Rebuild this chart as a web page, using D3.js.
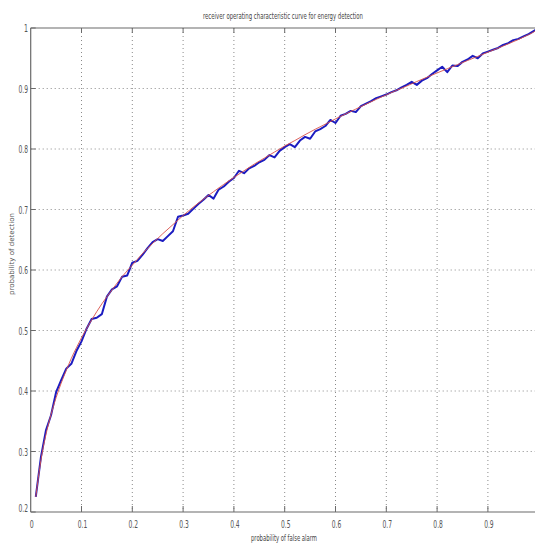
<!DOCTYPE html>
<html><head><meta charset="utf-8">
<script src="https://cdn.jsdelivr.net/npm/d3@7"></script>
<style>body{margin:0;background:#fff}svg{display:block}</style>
</head><body>
<svg id="c" width="535" height="543"></svg>
<script>
const titleText = "receiver operating characteristic curve for energy detection";
const xLabelText = "probability of false alarm";
const yLabelText = "probability of detection";
const xTicks = [0,0.1,0.2,0.3,0.4,0.5,0.6,0.7,0.8,0.9];
const xTickLabels = ["0","0.1","0.2","0.3","0.4","0.5","0.6","0.7","0.8","0.9"];
const yTicks = [0.2,0.3,0.4,0.5,0.6,0.7,0.8,0.9,1];
const yTickLabels = ["0.2","0.3","0.4","0.5","0.6","0.7","0.8","0.9","1"];

// theoretical curve (red)
const theoPf = [0.01,0.02,0.03,0.04,0.05,0.06,0.07,0.08,0.09,0.10,0.12,0.14,0.16,0.18,0.20,0.22,0.24,0.26,0.28,0.30,0.32,0.34,0.36,0.38,0.40,0.42,0.44,0.46,0.48,0.50,0.52,0.54,0.56,0.58,0.60,0.62,0.64,0.66,0.68,0.70,0.72,0.74,0.76,0.78,0.80,0.82,0.84,0.86,0.88,0.90,0.92,0.94,0.96,0.98,0.99,1.00];
const theoPd = [0.225,0.285,0.328,0.361,0.389,0.413,0.434,0.454,0.4715,0.488,0.5175,0.544,0.567,0.589,0.608,0.627,0.644,0.660,0.675,0.690,0.704,0.717,0.7295,0.7415,0.753,0.764,0.775,0.785,0.795,0.805,0.814,0.8236,0.8326,0.841,0.8498,0.858,0.866,0.874,0.882,0.8895,0.897,0.904,0.9115,0.9186,0.9257,0.9326,0.9394,0.9463,0.9531,0.960,0.9667,0.9738,0.981,0.9889,0.9933,1.0];

// simulated curve (blue)
const simPf = [0.01,0.02,0.03,0.04,0.05,0.06,0.07,0.08,0.09,0.10,0.11,0.12,0.13,0.14,0.15,0.16,0.17,0.18,0.19,0.20,0.21,0.22,0.23,0.24,0.25,0.26,0.27,0.28,0.29,0.30,0.31,0.32,0.33,0.34,0.35,0.36,0.37,0.38,0.39,0.40,0.41,0.42,0.43,0.44,0.45,0.46,0.47,0.48,0.49,0.50,0.51,0.52,0.53,0.54,0.55,0.56,0.57,0.58,0.59,0.60,0.61,0.62,0.63,0.64,0.65,0.66,0.67,0.68,0.69,0.70,0.71,0.72,0.73,0.74,0.75,0.76,0.77,0.78,0.79,0.80,0.81,0.82,0.83,0.84,0.85,0.86,0.87,0.88,0.89,0.90,0.91,0.92,0.93,0.94,0.95,0.96,0.97,0.98,0.99,1.00];
const simPd = [0.225,0.290,0.335,0.360,0.398,0.418,0.437,0.445,0.466,0.482,0.503,0.519,0.521,0.527,0.556,0.568,0.573,0.589,0.591,0.612,0.615,0.625,0.636,0.646,0.651,0.648,0.656,0.664,0.688,0.690,0.693,0.701,0.709,0.716,0.724,0.718,0.733,0.738,0.746,0.752,0.764,0.760,0.768,0.772,0.778,0.782,0.790,0.786,0.797,0.803,0.808,0.803,0.814,0.820,0.817,0.829,0.833,0.838,0.848,0.843,0.855,0.858,0.863,0.861,0.871,0.875,0.879,0.884,0.887,0.890,0.894,0.897,0.902,0.906,0.911,0.906,0.913,0.917,0.924,0.930,0.936,0.927,0.938,0.937,0.944,0.948,0.954,0.950,0.958,0.961,0.964,0.967,0.972,0.975,0.980,0.982,0.986,0.990,0.995,1.000];

const svg = d3.select("#c");
const narrow = "'Liberation Sans Narrow','DejaVu Sans Condensed','Roboto Condensed',sans-serif";
const pL = 30.7, pT = 28, pB = 512, pR = 538.7;
const x = d3.scaleLinear().domain([0,1]).range([pL,pR]);
const y = d3.scaleLinear().domain([0.2,1]).range([pB,pT]);

// grid
const g = svg.append("g");
g.selectAll("line.vg").data(xTicks.filter(d=>d>0)).join("line")
  .attr("x1",d=>x(d)).attr("x2",d=>x(d)).attr("y1",pT).attr("y2",pB)
  .attr("stroke","#8a8a8a").attr("stroke-width",1).attr("stroke-dasharray","1,3");
g.selectAll("line.hg").data(yTicks.filter(d=>d>0.2&&d<1)).join("line")
  .attr("x1",pL).attr("x2",535).attr("y1",d=>y(d)).attr("y2",d=>y(d))
  .attr("stroke","#8a8a8a").attr("stroke-width",1).attr("stroke-dasharray","1,3");

// axes box
const axCol = "#6a6a6a";
svg.append("line").attr("x1",pL).attr("x2",535).attr("y1",pB).attr("y2",pB).attr("stroke",axCol).attr("stroke-width",1.2);
svg.append("line").attr("x1",pL).attr("x2",535).attr("y1",pT).attr("y2",pT).attr("stroke",axCol).attr("stroke-width",1.2);
svg.append("line").attr("x1",pL).attr("x2",pL).attr("y1",pT).attr("y2",pB).attr("stroke",axCol).attr("stroke-width",1.2);

// ticks
svg.selectAll("line.xt").data(xTicks.filter(d=>d>0)).join("line")
  .attr("x1",d=>x(d)).attr("x2",d=>x(d)).attr("y1",pB).attr("y2",pB-6).attr("stroke",axCol);
svg.selectAll("line.xtt").data(xTicks.filter(d=>d>0)).join("line")
  .attr("x1",d=>x(d)).attr("x2",d=>x(d)).attr("y1",pT).attr("y2",pT+5).attr("stroke",axCol);
svg.selectAll("line.yt").data(yTicks).join("line")
  .attr("x1",pL).attr("x2",pL+5).attr("y1",d=>y(d)).attr("y2",d=>y(d)).attr("stroke",axCol);

// tick labels
svg.selectAll("text.xl").data(xTicks).join("text")
  .attr("x",(d)=>x(d)+1).attr("y",528).attr("text-anchor","middle")
  .attr("font-family",narrow).attr("font-size",11).attr("fill","#555")
  .attr("textLength",(d,i)=>xTickLabels[i].length>1?9.5:4).attr("lengthAdjust","spacingAndGlyphs")
  .text((d,i)=>xTickLabels[i]);
svg.selectAll("text.yl").data(yTicks).join("text")
  .attr("x",28).attr("y",d=>y(d)+ (d===0.2? 0 : 4)).attr("text-anchor","end")
  .attr("font-family",narrow).attr("font-size",11).attr("fill","#555")
  .attr("textLength",(d,i)=>yTickLabels[i].length>1?9.5:4).attr("lengthAdjust","spacingAndGlyphs")
  .text((d,i)=>yTickLabels[i]);

// curves
const line = d3.line().x(d=>x(d[0])).y(d=>y(d[1]));
svg.append("path").datum(simPf.map((p,i)=>[p,simPd[i]]))
  .attr("d",line).attr("fill","none").attr("stroke","#1c1cc0").attr("stroke-width",2).attr("stroke-linejoin","round");
const smooth = d3.line().curve(d3.curveMonotoneX).x(d=>x(d[0])).y(d=>y(d[1]));
svg.append("path").datum(theoPf.map((p,i)=>[p,theoPd[i]]))
  .attr("d",smooth)
  .attr("fill","none").attr("stroke","#d8504a").attr("stroke-width",0.9);

// labels
svg.append("text").attr("x",283).attr("y",19).attr("text-anchor","middle")
  .attr("font-family",narrow).attr("font-size",9).attr("fill","#444")
  .attr("textLength",160).attr("lengthAdjust","spacingAndGlyphs").text(titleText);
svg.append("text").attr("x",284).attr("y",541).attr("text-anchor","middle")
  .attr("font-family",narrow).attr("font-size",9).attr("fill","#444")
  .attr("textLength",66).attr("lengthAdjust","spacingAndGlyphs").text(xLabelText);
svg.append("text").attr("transform","translate(14,254) rotate(-90)").attr("text-anchor","middle")
  .attr("font-family","'DejaVu Sans',sans-serif").attr("font-size",7).attr("fill","#555")
  .attr("textLength",82).attr("lengthAdjust","spacingAndGlyphs").text(yLabelText);
</script>
</body></html>
